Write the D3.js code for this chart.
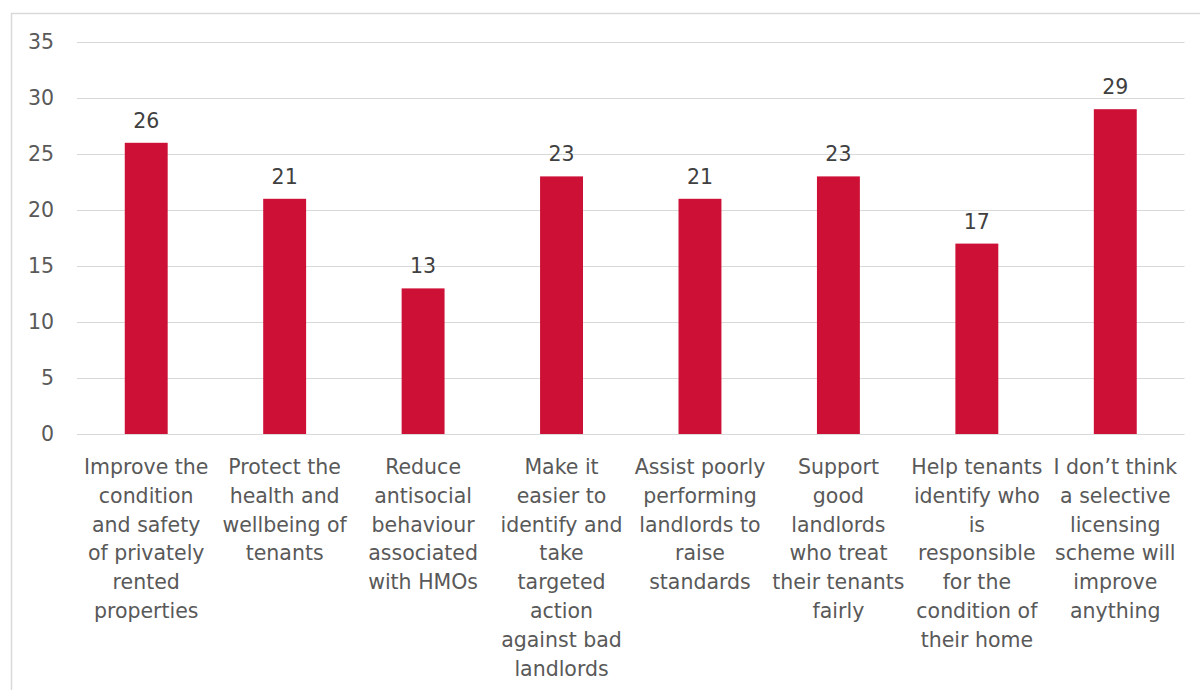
<!DOCTYPE html>
<html>
<head>
<meta charset="utf-8">
<script src="https://cdn.jsdelivr.net/npm/d3@7"></script>
<style>
  html, body { margin: 0; padding: 0; background: #fff; }
  svg { display: block; }
  text { font-family: "DejaVu Sans", sans-serif; }
</style>
</head>
<body>
<svg id="chart" width="1200" height="690"></svg>
<script>
// Category labels (line breaks as wrapped on the axis)
const categories = [
  "Improve the\ncondition\nand safety\nof privately\nrented\nproperties",
  "Protect the\nhealth and\nwellbeing of\ntenants",
  "Reduce\nantisocial\nbehaviour\nassociated\nwith HMOs",
  "Make it\neasier to\nidentify and\ntake\ntargeted\naction\nagainst bad\nlandlords",
  "Assist poorly\nperforming\nlandlords to\nraise\nstandards",
  "Support\ngood\nlandlords\nwho treat\ntheir tenants\nfairly",
  "Help tenants\nidentify who\nis\nresponsible\nfor the\ncondition of\ntheir home",
  "I don\u2019t think\na selective\nlicensing\nscheme will\nimprove\nanything"
];
const values = [26, 21, 13, 23, 21, 23, 17, 29];
const yTicks = [0, 5, 10, 15, 20, 25, 30, 35];

const svg = d3.select("#chart");
const margin = { left: 77, right: 1184.5, top: 42, bottom: 434 };
const fontSize = "20.5px";

// Outer chart frame (top and left edges visible)
svg.append("rect")
  .attr("x", 11.5).attr("y", 13.5)
  .attr("width", 1300).attr("height", 800)
  .attr("fill", "none").attr("stroke", "#d9d9d9").attr("stroke-width", 1.5);

const x = d3.scaleBand()
  .domain(d3.range(categories.length))
  .range([margin.left, margin.right])
  .padding(0);

const y = d3.scaleLinear().domain([0, 35]).range([margin.bottom, margin.top]);

// Horizontal gridlines
svg.append("g")
  .selectAll("line")
  .data(yTicks)
  .join("line")
  .attr("x1", margin.left).attr("x2", margin.right)
  .attr("y1", d => y(d) + 0.5).attr("y2", d => y(d) + 0.5)
  .attr("stroke", "#d9d9d9").attr("stroke-width", 1.2);

// Y axis labels
const yAxis = d3.axisLeft(y).tickValues(yTicks).tickSize(0).tickPadding(0);
const gy = svg.append("g").attr("transform", `translate(54,0)`).call(yAxis);
gy.select(".domain").remove();
gy.selectAll("text")
  .attr("fill", "#595959")
  .style("font-size", fontSize);

// Bars
const barW = x.bandwidth() * 0.31;
svg.append("g")
  .selectAll("rect")
  .data(values)
  .join("rect")
  .attr("x", (d, i) => x(i) + x.bandwidth() / 2 - barW / 2)
  .attr("y", d => y(d))
  .attr("width", barW)
  .attr("height", d => y(0) - y(d))
  .attr("fill", "#cc1036");

// Value labels
svg.append("g")
  .selectAll("text")
  .data(values)
  .join("text")
  .attr("x", (d, i) => x(i) + x.bandwidth() / 2)
  .attr("y", d => y(d) - 15)
  .attr("text-anchor", "middle")
  .attr("fill", "#404040")
  .style("font-size", fontSize)
  .text(d => d);

// Category labels
const lineH = 28.8;
const cat = svg.append("g")
  .selectAll("text")
  .data(categories)
  .join("text")
  .attr("text-anchor", "middle")
  .attr("fill", "#595959")
  .style("font-size", fontSize);
cat.each(function (d, i) {
  const t = d3.select(this);
  d.split("\n").forEach((line, k) => {
    t.append("tspan")
      .attr("x", x(i) + x.bandwidth() / 2)
      .attr("y", 474 + k * lineH)
      .text(line);
  });
});
</script>
</body>
</html>
